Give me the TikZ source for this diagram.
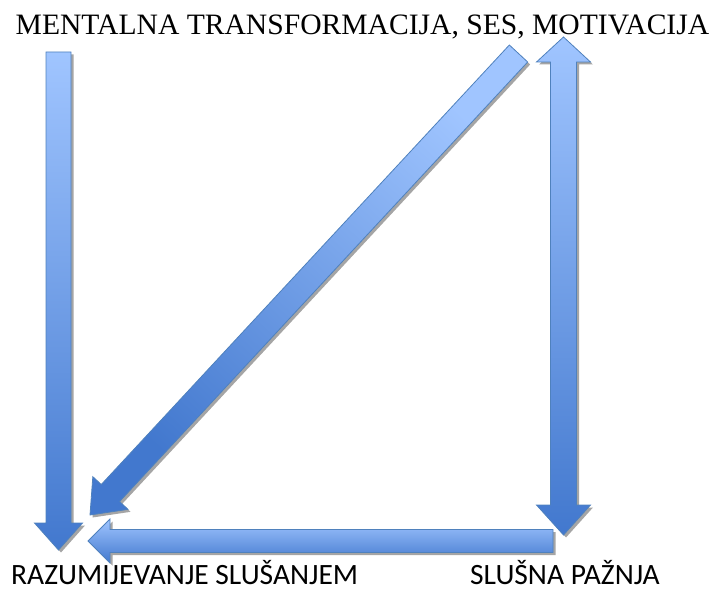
\documentclass[tikz,border=0pt]{standalone}
\usepackage{fontspec}
\setmainfont{Liberation Serif}
\newfontfamily\calibrifont{Carlito}
\usetikzlibrary{calc}
\definecolor{arrlight}{RGB}{160,197,255}
\definecolor{arrdark}{RGB}{66,120,206}
\definecolor{arrborder}{RGB}{79,129,189}
\definecolor{arrshadow}{RGB}{165,165,165}
\tikzset{
  arrowbody/.style={draw=arrborder, line width=0.8pt, line join=miter, top color=arrlight, bottom color=arrdark},
  arrowshadow/.style={fill=arrshadow, draw=none},
  toplabel/.style={font=\fontsize{29.6}{32}\selectfont, inner sep=0pt, anchor=base},
  bottomlabel/.style={font=\calibrifont\fontsize{29.5}{32}\selectfont, inner sep=0pt, anchor=base west},
}
% #1 tail, #2 tip, #3 shaft half width, #4 head half width, #5 head length, #6 extra style
\newcommand\singlearrow[6]{%
  \coordinate (hb) at ($(#2)!#5!(#1)$);
  \begin{scope}[transform canvas={shift={(2.5pt,-2.5pt)}}]
    \path[arrowshadow] ($(#1)!#3!90:(#2)$) -- ($(hb)!#3!90:(#2)$) -- ($(hb)!#4!90:(#2)$) -- (#2)
      -- ($(hb)!#4!-90:(#2)$) -- ($(hb)!#3!-90:(#2)$) -- ($(#1)!#3!-90:(#2)$) -- cycle;
  \end{scope}
  \path[arrowbody,#6] ($(#1)!#3!90:(#2)$) -- ($(hb)!#3!90:(#2)$) -- ($(hb)!#4!90:(#2)$) -- (#2)
      -- ($(hb)!#4!-90:(#2)$) -- ($(hb)!#3!-90:(#2)$) -- ($(#1)!#3!-90:(#2)$) -- cycle;
}
% #1 tip A, #2 tip B, #3 shaft half width, #4 head half width, #5 head length at A, #6 head length at B, #7 extra style
\newcommand\doublearrow[7]{%
  \coordinate (hba) at ($(#1)!#5!(#2)$);
  \coordinate (hbb) at ($(#2)!#6!(#1)$);
  \begin{scope}[transform canvas={shift={(2.5pt,-2.5pt)}}]
    \path[arrowshadow] (#1) -- ($(hba)!#4!90:(#2)$) -- ($(hba)!#3!90:(#2)$) -- ($(hbb)!#3!-90:(#1)$)
      -- ($(hbb)!#4!-90:(#1)$) -- (#2) -- ($(hbb)!#4!90:(#1)$) -- ($(hbb)!#3!90:(#1)$)
      -- ($(hba)!#3!-90:(#2)$) -- ($(hba)!#4!-90:(#2)$) -- cycle;
  \end{scope}
  \path[arrowbody,#7] (#1) -- ($(hba)!#4!90:(#2)$) -- ($(hba)!#3!90:(#2)$) -- ($(hbb)!#3!-90:(#1)$)
      -- ($(hbb)!#4!-90:(#1)$) -- (#2) -- ($(hbb)!#4!90:(#1)$) -- ($(hbb)!#3!90:(#1)$)
      -- ($(hba)!#3!-90:(#2)$) -- ($(hba)!#4!-90:(#2)$) -- cycle;
}
\begin{document}
\begin{tikzpicture}[x=1pt,y=-1pt]
  \useasboundingbox (0,0) rectangle (717,591);
  % labels
  \node[toplabel] (top) at (362.5,35) {MENTALNA TRANSFORMACIJA, SES, MOTIVACIJA};
  \node[bottomlabel] (razum) at (11,584) {RAZUMIJEVANJE SLUŠANJEM};
  \node[bottomlabel] (slusna) at (470,584) {SLUŠNA PAŽNJA};
  % arrow end points
  \coordinate (leftTail) at (58.5,52);
  \coordinate (leftTip) at (58.5,550);
  \coordinate (diagTail) at (518.5,53.5);
  \coordinate (diagTip) at (90,515);
  \coordinate (rightTop) at (563.5,37);
  \coordinate (rightBottom) at (563.5,535);
  \coordinate (botTail) at (553,541);
  \coordinate (botTip) at (88,541);
  % arrows
  \singlearrow{leftTail}{leftTip}{12.5pt}{24pt}{27pt}{}
  \singlearrow{diagTail}{diagTip}{12.5pt}{24pt}{30pt}{shading angle=-42.9}
  \doublearrow{rightTop}{rightBottom}{13pt}{27pt}{25pt}{30pt}{}
  \singlearrow{botTail}{botTip}{11.5pt}{22pt}{22pt}{}
\end{tikzpicture}
\end{document}
